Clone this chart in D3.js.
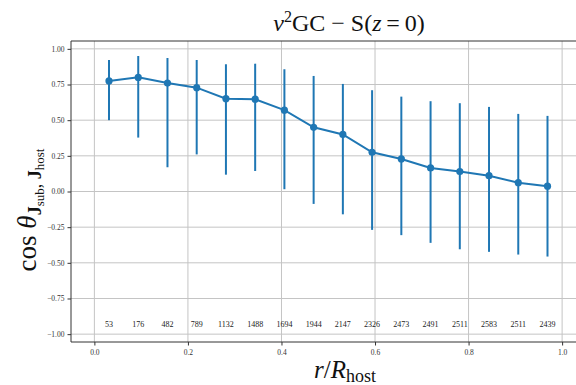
<!DOCTYPE html>
<html>
<head>
<meta charset="utf-8">
<script src="https://cdn.jsdelivr.net/npm/d3@7"></script>
<style>
  body { margin: 0; background: #fff; }
  svg { display: block; }
  text { font-family: "Liberation Serif", "DejaVu Serif", serif; }
</style>
</head>
<body>
<svg id="chart" width="576" height="385"></svg>
<script>
// radial bins (centres of 16 equal bins in r/R_host)
const radius = [0.03125, 0.09375, 0.15625, 0.21875, 0.28125, 0.34375, 0.40625, 0.46875,
                0.53125, 0.59375, 0.65625, 0.71875, 0.78125, 0.84375, 0.90625, 0.96875];
const meanCos = [0.775, 0.80, 0.76, 0.728, 0.651, 0.647, 0.57, 0.45,
                 0.40, 0.275, 0.228, 0.165, 0.14, 0.111, 0.062, 0.037];
const upper = [0.922, 0.95, 0.936, 0.922, 0.892, 0.896, 0.857, 0.81,
               0.754, 0.71, 0.665, 0.633, 0.619, 0.593, 0.544, 0.53];
const lower = [0.50, 0.378, 0.17, 0.26, 0.118, 0.144, 0.016, -0.087,
               -0.16, -0.269, -0.306, -0.36, -0.405, -0.423, -0.442, -0.456];
const counts = [53, 176, 482, 789, 1132, 1488, 1694, 1944, 2147, 2326, 2473, 2491, 2511, 2583, 2511, 2439];
const xTicks = [0.0, 0.2, 0.4, 0.6, 0.8, 1.0];
const yTicks = [-1.0, -0.75, -0.5, -0.25, 0.0, 0.25, 0.5, 0.75, 1.0];

const blue = '#1f77b4';
const serif = '"Liberation Serif", "DejaVu Serif", serif';
let svg = d3.select('#chart');

let x = d3.scaleLinear().domain([-0.05, 1.05]).range([71, 585.5]);
let y = d3.scaleLinear().domain([-1.055, 1.055]).range([342, 41]);

// grid
let grid = svg.append('g').attr('class', 'grid');
grid.selectAll('line.gx').data(xTicks).enter().append('line')
  .attr('x1', d => x(d)).attr('x2', d => x(d))
  .attr('y1', y.range()[0]).attr('y2', y.range()[1])
  .attr('stroke', '#c4c4c4').attr('stroke-width', 1);
grid.selectAll('line.gy').data(yTicks).enter().append('line')
  .attr('x1', x.range()[0]).attr('x2', 576)
  .attr('y1', d => y(d)).attr('y2', d => y(d))
  .attr('stroke', '#c4c4c4').attr('stroke-width', 1);

// axes
let xAxis = d3.axisBottom(x).tickValues(xTicks).tickFormat(d3.format('.1f')).tickSize(3.5).tickPadding(4);
let yAxis = d3.axisLeft(y).tickValues(yTicks).tickFormat(d3.format('.2f')).tickSize(3.5).tickPadding(3);

svg.append('g').attr('transform', 'translate(0,' + y.range()[0] + ')').call(xAxis)
  .attr('font-family', serif)
  .call(g => g.select('.domain').remove());
svg.append('g').attr('transform', 'translate(' + x.range()[0] + ',0)').call(yAxis)
  .attr('font-family', serif)
  .call(g => g.select('.domain').remove());
svg.selectAll('.tick text').attr('font-size', 7.5).attr('fill', '#333');
svg.selectAll('.tick line').attr('stroke', '#333');

// spines
svg.append('line').attr('x1', 71).attr('x2', 576).attr('y1', 342).attr('y2', 342)
  .attr('stroke', '#333').attr('stroke-width', 1);
svg.append('line').attr('x1', 71).attr('x2', 576).attr('y1', 41).attr('y2', 41)
  .attr('stroke', '#333').attr('stroke-width', 1);
svg.append('line').attr('x1', 71).attr('x2', 71).attr('y1', 41).attr('y2', 342)
  .attr('stroke', '#333').attr('stroke-width', 1);

// error bars
svg.append('g').selectAll('line').data(radius).enter().append('line')
  .attr('x1', d => x(d)).attr('x2', d => x(d))
  .attr('y1', (d, i) => y(lower[i])).attr('y2', (d, i) => y(upper[i]))
  .attr('stroke', blue).attr('stroke-width', 2);

// mean line
let valueline = d3.line()
  .x((d, i) => x(radius[i]))
  .y(d => y(d));
svg.append('path').datum(meanCos)
  .attr('d', valueline).attr('fill', 'none')
  .attr('stroke', blue).attr('stroke-width', 2);

svg.append('g').selectAll('circle').data(meanCos).enter().append('circle')
  .attr('cx', (d, i) => x(radius[i])).attr('cy', d => y(d))
  .attr('r', 3.6).attr('fill', blue);

// counts
svg.append('g').selectAll('text').data(counts).enter().append('text')
  .attr('x', (d, i) => x(radius[i])).attr('y', 327)
  .attr('text-anchor', 'middle').attr('font-size', 8).attr('fill', '#222')
  .text(d => d);

// title
let title = svg.append('text').attr('x', 349).attr('y', 31)
  .attr('text-anchor', 'middle').attr('font-size', 24).attr('fill', '#111');
title.append('tspan').attr('font-style', 'italic').text('ν');
title.append('tspan').attr('font-size', 16).attr('dy', -9).text('2');
title.append('tspan').attr('dy', 9).text('GC − S(');
title.append('tspan').attr('font-style', 'italic').text('z');
title.append('tspan').text('\u2009=\u20090)');

// x label
let xl = svg.append('text').attr('x', 345).attr('y', 378)
  .attr('text-anchor', 'middle').attr('font-size', 25).attr('fill', '#111');
xl.append('tspan').attr('font-style', 'italic').text('r');
xl.append('tspan').text('/');
xl.append('tspan').attr('font-style', 'italic').text('R');
xl.append('tspan').attr('font-size', 18).attr('dy', 4).text('host');

// y label
let yl = svg.append('text').attr('transform', 'translate(36,210) rotate(-90)')
  .attr('text-anchor', 'middle').attr('font-size', 27).attr('fill', '#111');
yl.append('tspan').text('cos ');
yl.append('tspan').attr('font-style', 'italic').text('θ');
yl.append('tspan').attr('font-size', 18).attr('font-weight', 'bold').attr('font-style', 'normal').attr('dy', 5).text('J');
yl.append('tspan').attr('font-size', 13).attr('font-weight', 'normal').attr('dy', 3).text('sub');
yl.append('tspan').attr('font-size', 18).attr('dy', -3).text(', ');
yl.append('tspan').attr('font-size', 18).attr('font-weight', 'bold').attr('font-style', 'normal').text('J');
yl.append('tspan').attr('font-size', 13).attr('font-weight', 'normal').attr('dy', 3).text('host');
</script>
</body>
</html>
